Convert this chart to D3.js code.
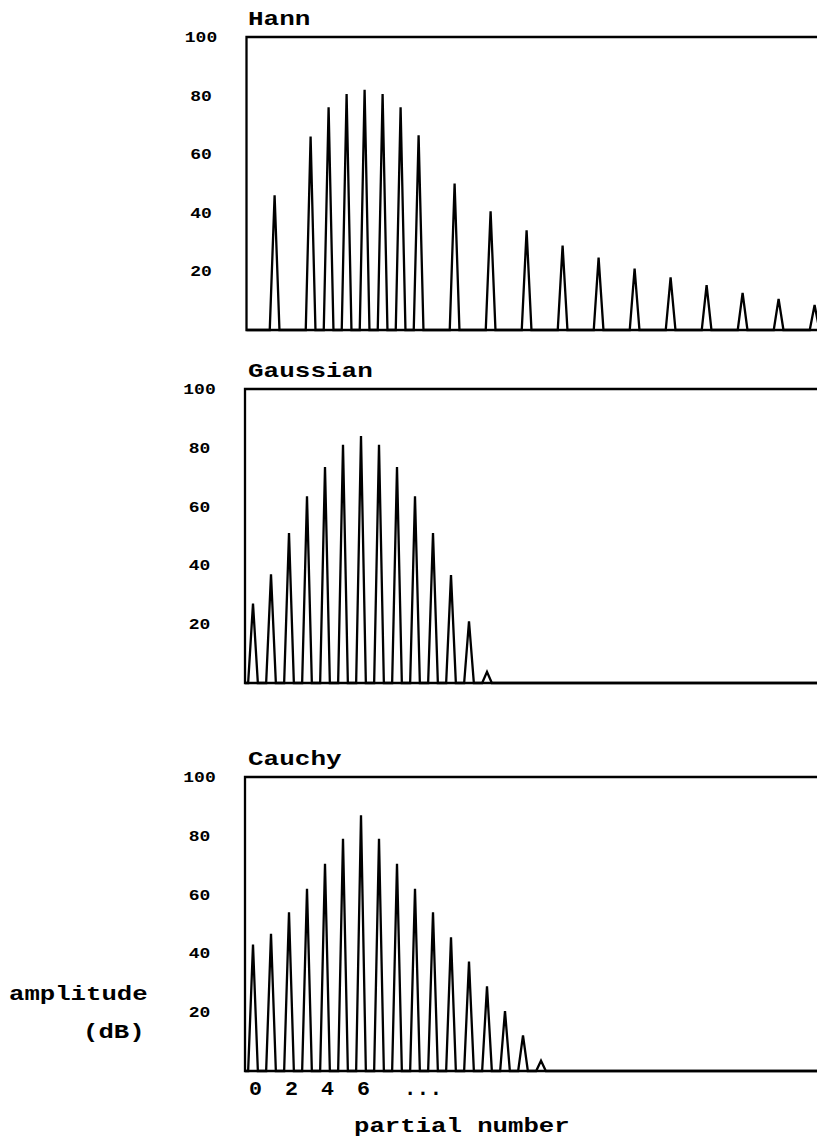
<!DOCTYPE html>
<html>
<head>
<meta charset="utf-8">
<script src="https://cdn.jsdelivr.net/npm/d3@7"></script>
<style>
  html, body { margin: 0; padding: 0; background: #fff; }
  svg { display: block; }
  text { font-family: "Liberation Mono", "Courier New", Courier, monospace; font-weight: bold; fill: #000; }
</style>
</head>
<body>
<svg id="chart" width="817" height="1141"></svg>
<script>
// ---- data ----
const panelTitles = ["Hann", "Gaussian", "Cauchy"];

const hannPartials = [1.2, 3.2, 4.2, 5.2, 6.2, 7.2, 8.2, 9.2, 11.2, 13.2, 15.2, 17.2, 19.2, 21.2, 23.2, 25.2, 27.2, 29.2, 31.2];
const hannValues   = [46, 66, 76, 80.5, 82, 80.5, 76, 66.5, 50, 40.5, 34, 28.8, 24.7, 21, 18, 15.3, 12.7, 10.6, 8.5];

const gaussPartials = [0, 1, 2, 3, 4, 5, 6, 7, 8, 9, 10, 11, 12, 13];
const gaussValues   = [27, 37, 51, 63.5, 73.5, 81, 84, 81, 73.5, 63.5, 51, 36.7, 21, 3.8];

const cauchyPartials = [0, 1, 2, 3, 4, 5, 6, 7, 8, 9, 10, 11, 12, 13, 14, 15, 16];
const cauchyValues   = [43, 46.7, 54, 62, 70.5, 79, 87, 79, 70.5, 62, 54, 45.5, 37.2, 28.8, 20.4, 12.1, 3.5];

const yTickValues = [20, 40, 60, 80, 100];
const xTickValues = [0, 2, 4, 6];
const xTickLabels = ["0", "2", "4", "6"];
const xEllipsis = { pos: 9.5, label: "..." };
const xAxisTitle = "partial number";
const yAxisTitle = ["amplitude", "(dB)"];

// ---- layout ----
const W = 817;
const peakHalfWidth = 0.27;      // in partial units
const xDomainMax = 32;
const x = d3.scaleLinear().domain([0, xDomainMax]).range([253, 253 + 18 * xDomainMax]);

const panels = [
  { title: panelTitles[0], partials: hannPartials,  values: hannValues,   left: 246.5, top: 37,  bottom: 330,  titleY: 25 },
  { title: panelTitles[1], partials: gaussPartials, values: gaussValues,  left: 245,   top: 389, bottom: 683,  titleY: 377 },
  { title: panelTitles[2], partials: cauchyPartials, values: cauchyValues, left: 245,  top: 777, bottom: 1071, titleY: 765 }
];

const svg = d3.select("#chart");

panels.forEach(p => {
  const y = d3.scaleLinear().domain([0, 100]).range([p.bottom, p.top]);
  const g = svg.append("g");

  // frame (open to the right edge)
  g.append("path")
    .attr("d", `M${W + 10},${y(100)} H${p.left} V${y(0)} H${W + 10}`)
    .attr("fill", "none").attr("stroke", "#000").attr("stroke-width", 2.3);

  // spectrum line
  const pts = [[x.invert(p.left), 0]];
  p.partials.forEach((k, i) => {
    pts.push([k - peakHalfWidth, 0]);
    pts.push([k, p.values[i]]);
    pts.push([k + peakHalfWidth, 0]);
  });
  pts.push([x.invert(W + 10), 0]);
  const line = d3.line().x(d => x(d[0])).y(d => y(d[1]));
  g.append("path")
    .attr("d", line(pts))
    .attr("fill", "none").attr("stroke", "#000").attr("stroke-width", 2.3)
    .attr("stroke-linejoin", "miter").attr("stroke-miterlimit", 4);

  // title
  g.append("text")
    .attr("x", 248).attr("y", p.titleY)
    .attr("font-size", 21)
    .attr("textLength", 15.6 * p.title.length)
    .attr("lengthAdjust", "spacingAndGlyphs")
    .text(p.title);

  // y tick labels
  g.selectAll("text.ytick").data(yTickValues).enter().append("text")
    .attr("class", "ytick")
    .attr("x", p.left - 45.5)
    .attr("y", d => y(d) + 5)
    .attr("text-anchor", "middle")
    .attr("font-size", 15.5)
    .attr("textLength", d => 10.8 * String(d).length)
    .attr("lengthAdjust", "spacingAndGlyphs")
    .text(d => d);
});

// x tick labels (bottom panel)
const xTickY = 1095;
svg.selectAll("text.xtick").data(xTickValues).enter().append("text")
  .attr("class", "xtick")
  .attr("x", d => x(d) + 2.5)
  .attr("y", xTickY)
  .attr("text-anchor", "middle")
  .attr("font-size", 20)
  .attr("textLength", (d, i) => 13 * xTickLabels[i].length)
  .attr("lengthAdjust", "spacingAndGlyphs")
  .text((d, i) => xTickLabels[i]);

svg.append("text")
  .attr("x", x(xEllipsis.pos) - 1)
  .attr("y", xTickY)
  .attr("text-anchor", "middle")
  .attr("font-size", 22)
  .attr("textLength", 12.8 * xEllipsis.label.length)
  .attr("lengthAdjust", "spacingAndGlyphs")
  .text(xEllipsis.label);

// axis titles
svg.append("text")
  .attr("x", 354).attr("y", 1132)
  .attr("font-size", 20)
  .attr("textLength", 15.4 * xAxisTitle.length)
  .attr("lengthAdjust", "spacingAndGlyphs")
  .text(xAxisTitle);

svg.append("text")
  .attr("x", 9).attr("y", 1000)
  .attr("font-size", 20)
  .attr("textLength", 15.4 * yAxisTitle[0].length)
  .attr("lengthAdjust", "spacingAndGlyphs")
  .text(yAxisTitle[0]);

svg.append("text")
  .attr("x", 83).attr("y", 1038)
  .attr("font-size", 20)
  .attr("textLength", 15.4 * yAxisTitle[1].length)
  .attr("lengthAdjust", "spacingAndGlyphs")
  .text(yAxisTitle[1]);
</script>
</body>
</html>
